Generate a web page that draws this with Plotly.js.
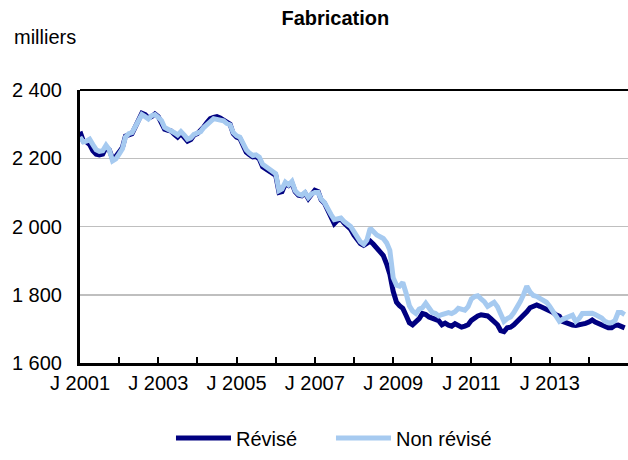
<!DOCTYPE html>
<html>
<head>
<meta charset="utf-8">
<script src="https://cdn.plot.ly/plotly-3.0.1.min.js"></script>
<style>html,body{margin:0;padding:0;background:#fff;}#chart{width:628px;height:460px;}</style>
</head>
<body>
<div id="chart"></div>
<script>
// Monthly data, January 2001 to December 2014 (thousands)
const startYear = 2001;
const endYear = 2014;

const revise = [
  2278, 2250, 2248, 2240, 2222, 2212, 2210, 2212, 2232, 2225, 2198, 2205,
  2218, 2232, 2265, 2270, 2272, 2292, 2315, 2332, 2328, 2318, 2322, 2330,
  2322, 2306, 2285, 2282, 2280, 2270, 2262, 2272, 2262, 2250, 2255, 2268,
  2272, 2280, 2292, 2305, 2316, 2320, 2322, 2318, 2312, 2305, 2300, 2272,
  2262, 2258, 2240, 2218, 2210, 2204, 2205, 2198, 2175, 2168, 2160, 2156,
  2150, 2100, 2102, 2125, 2120, 2128, 2102, 2092, 2090, 2098, 2082, 2094,
  2106, 2102, 2078, 2068, 2046, 2028, 2008, 2018, 2022, 2010, 2000, 1992,
  1975, 1960, 1950, 1945, 1950, 1957, 1948, 1938, 1925, 1915, 1890, 1860,
  1810, 1778, 1768, 1760, 1740, 1718, 1712, 1720, 1730, 1745, 1742, 1735,
  1730, 1726, 1724, 1712, 1717, 1711, 1708, 1715, 1710, 1705, 1708, 1712,
  1725, 1733, 1738, 1741, 1741, 1738, 1730, 1720, 1712, 1695, 1692, 1703,
  1705, 1712, 1720, 1730, 1738, 1750, 1762, 1766, 1770, 1766, 1762, 1758,
  1755, 1748, 1741, 1737, 1722, 1717, 1712, 1711, 1710, 1711, 1712, 1716,
  1720, 1726, 1720, 1716, 1710, 1705, 1703, 1703, 1710, 1711, 1706, 1703
];

const nonRevise = [
  2262, 2248, 2250, 2256, 2240, 2225, 2220, 2222, 2238, 2225, 2192, 2198,
  2212, 2228, 2262, 2272, 2275, 2295, 2312, 2328, 2322, 2315, 2325, 2328,
  2320, 2310, 2290, 2285, 2282, 2275, 2268, 2278, 2268, 2256, 2260, 2270,
  2274, 2278, 2290, 2300, 2310, 2316, 2314, 2312, 2310, 2302, 2298, 2275,
  2266, 2262, 2245, 2225, 2215, 2208, 2210, 2203, 2182, 2175, 2166, 2162,
  2155, 2105, 2110, 2130, 2122, 2132, 2105, 2095, 2092, 2100, 2085, 2095,
  2100, 2100, 2080, 2070, 2050, 2035, 2020, 2022, 2025, 2015, 2008, 2000,
  1985, 1970, 1955, 1948, 1960, 1995, 1985, 1975, 1970, 1965, 1952, 1930,
  1850, 1828, 1825, 1836, 1805, 1768, 1752, 1745, 1758, 1762, 1775, 1760,
  1748, 1745, 1738, 1742, 1746, 1748, 1745, 1750, 1760, 1757, 1755, 1765,
  1788, 1795, 1797, 1788, 1780, 1766, 1770, 1778, 1765, 1745, 1722, 1730,
  1735, 1748, 1762, 1780, 1800, 1825, 1808, 1798, 1795, 1790, 1785, 1778,
  1766, 1752, 1735, 1722, 1728, 1732, 1738, 1740, 1722, 1730, 1745, 1746,
  1746, 1746, 1742, 1738, 1732, 1722, 1718, 1718, 1724, 1748, 1748, 1742
];

const yTickVals = [1600, 1800, 2000, 2200, 2400];
const yTickText = ["1 600", "1 800", "2 000", "2 200", "2 400"];
const xTickLabelsEvery2 = ["J 2001", "J 2003", "J 2005", "J 2007", "J 2009", "J 2011", "J 2013"];

// month categories as dates
const months = [];
for (let y = startYear; y <= endYear; y++) {
  for (let m = 1; m <= 12; m++) {
    months.push(y + "-" + (m < 10 ? "0" + m : m) + "-01");
  }
}
const xTickVals = [];
const xTickText = [];
for (let y = startYear; y <= endYear + 1; y++) {
  xTickVals.push(y + "-01-01");
  const idx = (y - startYear) / 2;
  xTickText.push((y - startYear) % 2 === 0 && idx < xTickLabelsEvery2.length ? xTickLabelsEvery2[idx] : "");
}

const FONT = "Liberation Sans, Arial, sans-serif";

const traces = [
  {
    x: months, y: revise, type: "scatter", mode: "lines", name: "Révisé",
    line: {color: "#000080", width: 5}
  },
  {
    x: months, y: nonRevise, type: "scatter", mode: "lines", name: "Non révisé",
    line: {color: "#a6caf0", width: 5}
  }
];

const layout = {
  width: 628, height: 460,
  margin: {l: 80, r: 0, t: 90, b: 97},
  paper_bgcolor: "#fff", plot_bgcolor: "#fff",
  font: {family: FONT, size: 20, color: "#000"},
  title: {
    text: "<b>Fabrication</b>",
    font: {family: FONT, size: 20, color: "#000"},
    x: 0.466, xref: "paper", xanchor: "center",
    y: 0.961, yref: "container", yanchor: "middle"
  },
  xaxis: {
    type: "date",
    range: ["2001-01-01", "2015-01-01"],
    tickmode: "array", tickvals: xTickVals, ticktext: xTickText,
    ticks: "inside", ticklen: 6, tickwidth: 2, tickcolor: "#000",
    showline: true, linecolor: "#000", linewidth: 3,
    showgrid: false, zeroline: false,
    tickfont: {family: FONT, size: 20, color: "#000"}
  },
  yaxis: {
    range: [1600, 2400],
    tickmode: "array", tickvals: yTickVals, ticktext: yTickText,
    ticks: "", showline: true, linecolor: "#000", linewidth: 3,
    showgrid: true, gridcolor: "#bfbfbf", gridwidth: 1.5,
    zeroline: false, ticklabelstandoff: 11,
    tickfont: {family: FONT, size: 20, color: "#000"}
  },
  shapes: [
    {type: "line", xref: "paper", yref: "paper", x0: 0, x1: 1, y0: 1, y1: 1,
     line: {color: "#000", width: 2}}
  ],
  annotations: [
    {text: "milliers", xref: "paper", yref: "paper", x: -0.124, y: 1.194,
     xanchor: "left", yanchor: "middle", showarrow: false,
     font: {family: FONT, size: 20, color: "#000"}}
  ],
  showlegend: true,
  legend: {
    orientation: "h", x: 0.458, xanchor: "center", y: -0.275, yanchor: "middle",
    font: {family: FONT, size: 20, color: "#000"},
    itemwidth: 55, entrywidth: 90,
    bgcolor: "rgba(0,0,0,0)", traceorder: "normal"
  }
};

Plotly.newPlot("chart", traces, layout, {displayModeBar: false, staticPlot: true});
</script>
</body>
</html>
